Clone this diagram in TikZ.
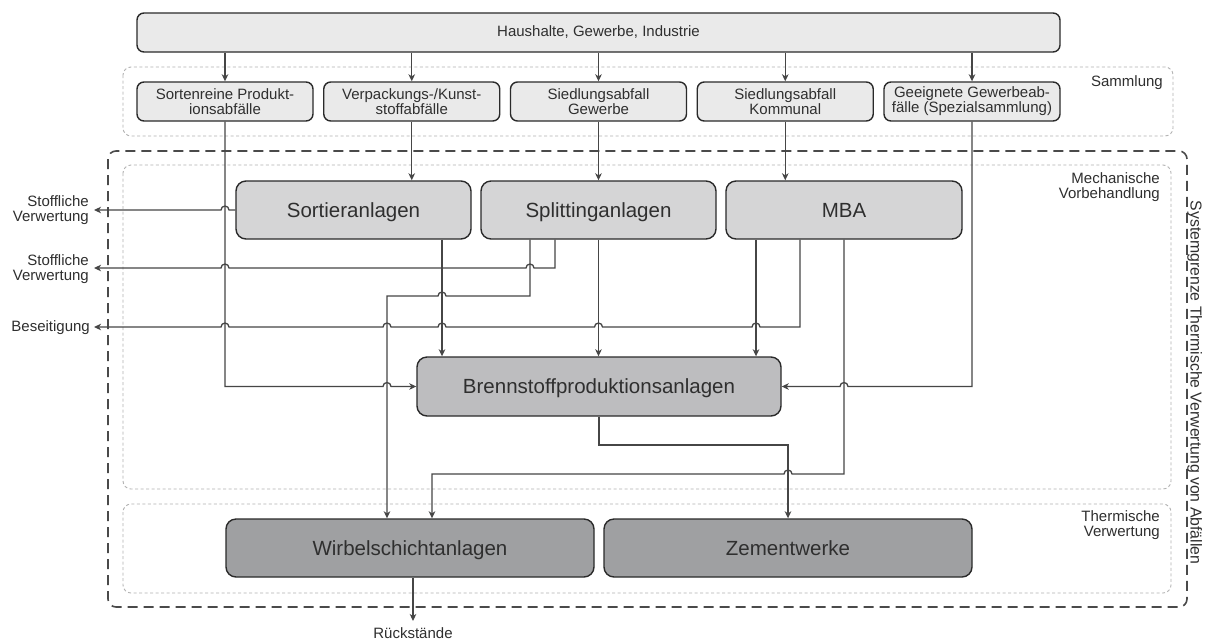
\documentclass[tikz,border=0pt]{standalone}
\usepackage{fontspec}
\setmainfont{Liberation Sans}
\usetikzlibrary{arrows.meta,calc}

\definecolor{ink}{HTML}{2F2F2F}
\definecolor{wire}{HTML}{464646}
\definecolor{edge}{HTML}{2A2A2A}
\definecolor{fillA}{HTML}{EAEAEA}
\definecolor{fillB}{HTML}{D5D5D6}
\definecolor{fillC}{HTML}{BDBDBF}
\definecolor{fillD}{HTML}{9FA0A2}
\definecolor{zonec}{HTML}{B2B2B2}
\definecolor{bordc}{HTML}{4A4A4A}

\newcommand\txtS{\fontsize{15}{15}\selectfont}
\newcommand\txtL{\fontsize{20.5}{24}\selectfont}
\newcommand\txtR{\fontsize{15.8}{16}\selectfont}

% small bridge where a horizontal line passes over a vertical one
% (#1: node/coordinate giving the x, #2: node/coordinate giving the y)
\newcommand\hopL[2]{-- ($(#1 |- #2)+(4,0)$) arc[start angle=0,end angle=180,radius=4pt]}
\newcommand\hopR[2]{-- ($(#1 |- #2)+(-4,0)$) arc[start angle=180,end angle=0,radius=4pt]}

\begin{document}
\begin{tikzpicture}[x=1pt,y=-1pt,
  box/.style={draw=edge, line width=1.4pt, inner sep=0pt, align=center, text=ink},
  topbox/.style={box, fill=fillA, rounded corners=7pt, minimum width=923pt, minimum height=39pt, font=\txtS},
  src/.style={box, fill=fillA, rounded corners=7pt, minimum width=176pt, minimum height=39pt, font=\txtS},
  big/.style={box, rounded corners=10pt, minimum height=58pt, font=\txtL, text height=14.7pt, text depth=0pt},
  mech/.style={big, fill=fillB, minimum width=235pt},
  fuel/.style={big, fill=fillC, minimum width=364pt, minimum height=59pt},
  plant/.style={big, fill=fillD, minimum width=368pt},
  lbl/.style={inner sep=0pt, font=\txtS, text=ink},
  arr/.style={draw=wire, line width=1.3pt, -{Stealth[length=7pt,width=6.5pt,inset=2pt]}},
  zone/.style={draw=zonec, line width=0.9pt, dash pattern=on 3pt off 2.5pt, rounded corners=8pt},
  outer/.style={draw=bordc, line width=1.6pt, dash pattern=on 10pt off 6pt, rounded corners=8pt}]

\useasboundingbox (0,0) rectangle (1207,641);
\fill[white] (0,0) rectangle (1207,641);

% stage frames
\draw[zone] (123,67) rectangle (1173,136);
\draw[zone] (123,165) rectangle (1171,489);
\draw[zone] (123,504) rectangle (1171,593);
\draw[outer] (108,151) rectangle (1187,607);

% stage labels
\node[lbl, anchor=base east] (lsam) at (1163,86) {Sammlung};
\node[lbl, anchor=east, align=right] (lmech) at (1160,187) {Mechanische\\Vorbehandlung};
\node[lbl, anchor=east, align=right] (ltherm) at (1160,525.5) {Thermische\\Verwertung};
\node[lbl, rotate=-90, anchor=base, font=\txtR] (lsys) at (1190.5,382.5) {Systemgrenze Thermische Verwertung von Abfällen};

% sources and collection
\node[topbox] (top) at (598.5,32.5) {Haushalte, Gewerbe, Industrie};
\node[src] (b1) at (225,101.5) {Sortenreine Produkt-\\ionsabfälle};
\node[src] (b2) at (411.75,101.5) {Verpackungs-/Kunst-\\stoffabfälle};
\node[src] (b3) at (598.5,101.5) {Siedlungsabfall\\Gewerbe};
\node[src] (b4) at (785.25,101.5) {Siedlungsabfall\\Kommunal};
\node[src] (b5) at (972,101.5) {Geeignete Gewerbeab-\\fälle (Spezialsammlung)};

% treatment plants
\node[mech] (sort) at (353.5,210) {Sortieranlagen};
\node[mech] (split) at (598.5,210) {Splittinganlagen};
\node[mech, minimum width=236pt] (mba) at (844,210) {MBA};
\node[fuel] (brenn) at (599,386.5) {Brennstoffproduktionsanlagen};
\node[plant] (wirb) at (410,548) {Wirbelschichtanlagen};
\node[plant] (zem) at (788,548) {Zementwerke};

% outside destinations
\node[lbl, anchor=east, align=right] (dst1) at (89,210.5) {Stoffliche\\Verwertung};
\node[lbl, anchor=east, align=right] (dst2) at (89,269) {Stoffliche\\Verwertung};
\node[lbl, anchor=east] (dst3) at (90,327.5) {Beseitigung};
\node[lbl, anchor=base] (dst4) at (413,638.5) {Rückstände};

\coordinate (out1) at (94,210);
\coordinate (out2) at (94,268);
\coordinate (out3) at (94,327);
\coordinate (res) at (413,621);
\coordinate (kA) at (0,296);
\coordinate (kB) at (0,445);
\coordinate (kC) at (0,474);

% ports on the plant boxes
\coordinate (sOut) at ([xshift=88.5pt]sort.south);
\coordinate (pA) at ([xshift=-68.5pt]split.south);
\coordinate (pB) at ([xshift=-43.5pt]split.south);
\coordinate (mA) at ([xshift=-88pt]mba.south);
\coordinate (mB) at ([xshift=-44pt]mba.south);
\coordinate (wA) at ([xshift=-23pt]wirb.north);
\coordinate (wB) at ([xshift=22pt]wirb.north);
\coordinate (wO) at ([xshift=3pt]wirb.south);

% collection
\foreach \i in {1,...,5} \draw[arr] (top.south -| b\i.north) -- (b\i.north);
\draw[arr] (b2.south) -- (b2.south |- sort.north);
\draw[arr] (b3.south) -- (split.north);
\draw[arr] (b4.south) -- (b4.south |- mba.north);

% direct deliveries to fuel production
\draw[arr] (b1.south) -- (b1.south |- brenn.west) \hopR{wA}{brenn.west} -- (brenn.west);
\draw[arr] (b5.south) -- (b5.south |- brenn.east) \hopL{mba.south}{brenn.east} -- (brenn.east);

% sorting
\draw[arr] (sort.west) \hopL{b1.south}{sort.west} -- (out1);
\draw[arr] (sOut) -- (sOut |- brenn.north);

% splitting
\draw[arr] (pB) -- (pB |- out2) \hopL{pA}{out2} \hopL{b1.south}{out2} -- (out2);
\draw[arr] (pA) -- (pA |- kA) \hopL{sOut}{kA} -- (wA |- kA) -- (wA);
\draw[arr] (split.south) -- (split.south |- brenn.north);

% MBA
\draw[arr] (mA) -- (mA |- brenn.north);
\draw[arr] (mB) -- (mB |- out3) \hopL{mA}{out3} \hopL{split.south}{out3} \hopL{sOut}{out3} \hopL{wA}{out3} \hopL{b1.south}{out3} -- (out3);
\draw[arr] (mba.south) -- (mba.south |- kC) \hopL{zem.north}{kC} -- (wB |- kC) -- (wB);

% fuel production to cement works
\draw[arr] (brenn.south) -- (brenn.south |- kB) -- (zem.north |- kB) -- (zem.north);

% residues
\draw[arr] (wO) -- (res);

\end{tikzpicture}
\end{document}
